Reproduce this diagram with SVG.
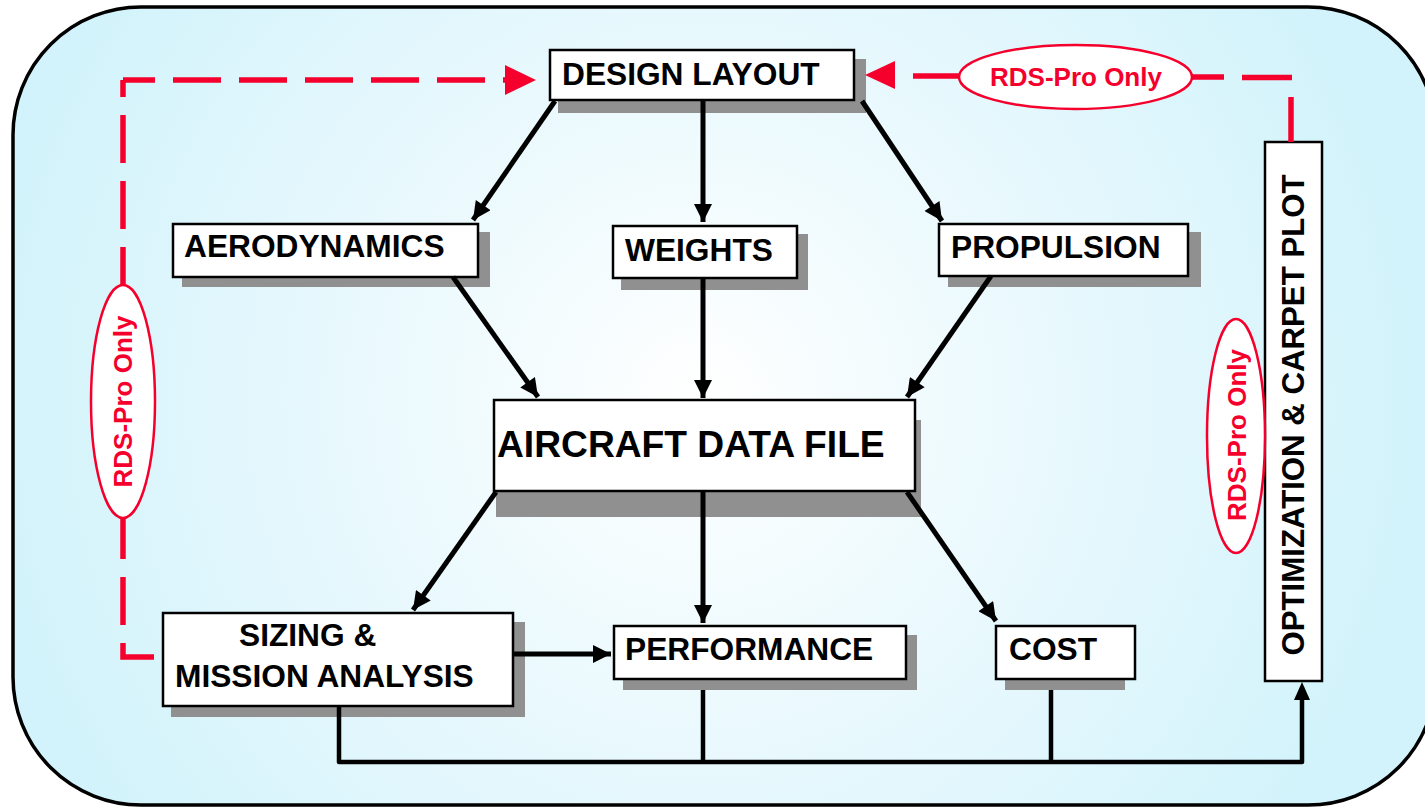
<svg xmlns="http://www.w3.org/2000/svg" width="1425" height="807" viewBox="0 0 1425 807">
<defs>
<radialGradient id="bg" cx="700" cy="400" r="720" gradientUnits="userSpaceOnUse">
<stop offset="0" stop-color="#ffffff"/>
<stop offset="0.55" stop-color="#e6f8fd"/>
<stop offset="1" stop-color="#d2f3fb"/>
</radialGradient>
<marker id="ah" viewBox="0 0 10 10" refX="10" refY="5" markerWidth="4.2" markerHeight="3.6" markerUnits="strokeWidth" orient="auto">
<path d="M0,0 L10,5 L0,10 z" fill="#000"/>
</marker>
<style>
.box{fill:#fff;stroke:#000;stroke-width:2.5}
.sh{fill:#909090}
.t{font-family:"Liberation Sans",Arial,sans-serif;font-weight:bold;font-size:31.7px;fill:#000}
.c{stroke:#000;stroke-width:5;fill:none}
.r{font-family:"Liberation Sans",Arial,sans-serif;font-weight:bold;font-size:26px;fill:#f5002c}
.re{fill:#fff;stroke:#f5002c;stroke-width:2.5}
.rd{stroke:#f5002c;stroke-width:5.5;fill:none}
</style>
</defs>
<rect x="13" y="7" width="1423" height="798" rx="128" ry="128" fill="url(#bg)" stroke="#000" stroke-width="3.5"/>

<g id="design-layout">
<rect class="sh" x="558" y="59" width="308" height="54"/>
<rect class="box" x="550" y="50" width="304" height="50"/>
<text class="t" x="562" y="85">DESIGN LAYOUT</text>
</g>
<g id="aerodynamics">
<rect class="sh" x="182" y="232" width="308" height="55"/>
<rect class="box" x="173" y="224" width="305" height="53"/>
<text class="t" x="184" y="257">AERODYNAMICS</text>
</g>
<g id="weights">
<rect class="sh" x="621" y="234" width="187" height="56"/>
<rect class="box" x="613" y="226" width="184" height="52"/>
<text class="t" x="625" y="261">WEIGHTS</text>
</g>
<g id="propulsion">
<rect class="sh" x="948" y="232" width="253" height="55"/>
<rect class="box" x="939" y="224" width="249" height="52"/>
<text class="t" x="951" y="258">PROPULSION</text>
</g>
<g id="aircraft-data-file">
<rect class="sh" x="496" y="420" width="425" height="97"/>
<rect class="box" x="494" y="400" width="421" height="91"/>
<text class="t" x="497" y="457" style="font-size:37.2px">AIRCRAFT DATA FILE</text>
</g>
<g id="sizing">
<rect class="sh" x="171" y="622" width="354" height="95"/>
<rect class="box" x="163" y="613" width="350" height="93"/>
<text class="t" x="239" y="646">SIZING &amp;</text>
<text class="t" x="175" y="687">MISSION ANALYSIS</text>
</g>
<g id="performance">
<rect class="sh" x="623" y="635" width="294" height="55"/>
<rect class="box" x="614" y="626" width="292" height="53"/>
<text class="t" x="625" y="660">PERFORMANCE</text>
</g>
<g id="cost">
<rect class="sh" x="1005" y="640" width="120" height="50"/>
<rect class="box" x="996" y="626" width="139" height="53"/>
<text class="t" x="1009" y="660">COST</text>
</g>
<g id="optimization">
<rect class="box" x="1265" y="142" width="57" height="539"/>
<text class="t" transform="translate(1304,415) rotate(-90)" text-anchor="middle" style="font-size:31.2px">OPTIMIZATION &amp; CARPET PLOT</text>
</g>

<g id="connectors">
<path class="rd" d="M123,80 H505" stroke-dasharray="48 18" stroke-dashoffset="16"/>
<path class="rd" d="M123,80 V657 H154" stroke-dasharray="48 18" stroke-dashoffset="31"/>
<polygon points="505,65 536,80 505,95" fill="#f5002c"/>
<path class="rd" d="M913,76 H962 M1190,77 H1224 M1242,77.5 H1292 M1291,97 V142"/>
<polygon points="895,61 865,75 895,89" fill="#f5002c"/>
<line class="c" x1="555" y1="101" x2="473" y2="220" marker-end="url(#ah)"/>
<line class="c" x1="703" y1="101" x2="703" y2="222" marker-end="url(#ah)"/>
<line class="c" x1="862" y1="101" x2="942" y2="221" marker-end="url(#ah)"/>
<line class="c" x1="453" y1="277" x2="538" y2="397" marker-end="url(#ah)"/>
<line class="c" x1="703" y1="278" x2="703" y2="398" marker-end="url(#ah)"/>
<line class="c" x1="991" y1="276" x2="907" y2="397" marker-end="url(#ah)"/>
<line class="c" x1="496" y1="492" x2="413" y2="610" marker-end="url(#ah)"/>
<line class="c" x1="703" y1="491" x2="703" y2="623" marker-end="url(#ah)"/>
<line class="c" x1="907" y1="492" x2="996" y2="621" marker-end="url(#ah)"/>
<line class="c" x1="513" y1="654" x2="611" y2="654" stroke-width="4" marker-end="url(#ah)"/>
<path d="M339,706 V762 H1302 V700" stroke="#000" stroke-width="4.5" fill="none" stroke-linejoin="round"/>
<polygon points="1294,700 1302,682 1310,700" fill="#000"/>
<line x1="703" y1="690" x2="703" y2="762" stroke="#000" stroke-width="4.5"/>
<line x1="1051" y1="690" x2="1051" y2="762" stroke="#000" stroke-width="4.5"/>
</g>

<g id="rds-top">
<ellipse class="re" cx="1075.5" cy="77" rx="116.5" ry="32"/>
<text class="r" x="1076" y="86" text-anchor="middle">RDS-Pro Only</text>
</g>
<g id="rds-left">
<ellipse class="re" cx="123" cy="401.5" rx="32" ry="116.5"/>
<text class="r" transform="translate(132,401.5) rotate(-90)" text-anchor="middle">RDS-Pro Only</text>
</g>
<g id="rds-right">
<ellipse class="re" cx="1236" cy="436" rx="29" ry="117"/>
<text class="r" transform="translate(1246,435) rotate(-90)" text-anchor="middle">RDS-Pro Only</text>
</g>
</svg>
